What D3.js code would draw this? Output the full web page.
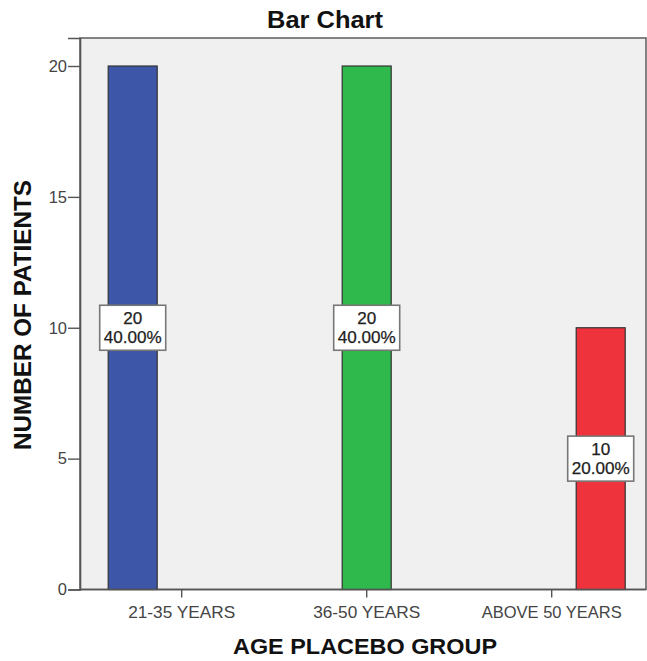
<!DOCTYPE html>
<html>
<head>
<meta charset="utf-8">
<script src="https://cdn.jsdelivr.net/npm/d3@7"></script>
<style>
  html, body { margin: 0; padding: 0; background: #fff; }
  svg { display: block; font-family: "Liberation Sans", Arial, sans-serif; }
</style>
</head>
<body>
<svg id="chart" width="647" height="661"></svg>
<script>
const categories = ["21-35 YEARS", "36-50 YEARS", "ABOVE 50 YEARS"];
const counts = [20, 20, 10];
const percents = [40.00, 40.00, 20.00];
const yTicks = [0, 5, 10, 15, 20];
const barColors = ["#3d56a7", "#2fb84b", "#ef333d"];

const svg = d3.select("#chart");
const frame = { left: 80, right: 646, top: 38, bottom: 589.5 };

const x = d3.scaleBand().domain(categories).range([89.2, 644.2]).padding(0);
const slot = d3.scaleBand().domain(categories).range([-73.5, 73.5]).padding(0);
const y = d3.scaleLinear().domain([0, 21.07]).range([frame.bottom, frame.top]);

// plot background
svg.append("rect")
  .attr("x", frame.left).attr("y", frame.top)
  .attr("width", frame.right - frame.left).attr("height", frame.bottom - frame.top)
  .attr("fill", "#f0f0f0").attr("stroke", "#666").attr("stroke-width", 1.6);

// bars
const data = categories.map((c, i) => ({ cat: c, count: counts[i], pct: percents[i], color: barColors[i] }));
svg.append("g").selectAll("rect").data(data).join("rect")
  .attr("x", d => x(d.cat) + x.bandwidth() / 2 + slot(d.cat))
  .attr("y", d => y(d.count))
  .attr("width", slot.bandwidth())
  .attr("height", d => y(0) - y(d.count))
  .attr("fill", d => d.color)
  .attr("stroke", "#333").attr("stroke-width", 1.2);

// value label boxes
const lbl = svg.append("g").selectAll("g").data(data).join("g")
  .attr("transform", d => `translate(${x(d.cat) + x.bandwidth() / 2 + slot(d.cat) + slot.bandwidth() / 2},${y(d.count / 2)})`);
lbl.append("rect")
  .attr("x", -33).attr("y", -22.5).attr("width", 66).attr("height", 45)
  .attr("fill", "#fff").attr("stroke", "#777").attr("stroke-width", 1.6);
lbl.append("text").attr("text-anchor", "middle").attr("y", -4)
  .attr("font-size", 16).attr("fill", "#222")
  .attr("stroke", "#222").attr("stroke-width", 0.25)
  .attr("textLength", 19).attr("lengthAdjust", "spacingAndGlyphs")
  .text(d => d.count);
lbl.append("text").attr("text-anchor", "middle").attr("y", 15.5)
  .attr("font-size", 16).attr("fill", "#222")
  .attr("stroke", "#222").attr("stroke-width", 0.25)
  .attr("textLength", 58).attr("lengthAdjust", "spacingAndGlyphs")
  .text(d => d.pct.toFixed(2) + "%");

// y axis
const yAxis = svg.append("g").attr("transform", `translate(${frame.left},0)`)
  .call(d3.axisLeft(y).tickValues(yTicks).tickSize(12).tickPadding(1).tickFormat(d3.format("d")));
yAxis.select(".domain").attr("stroke", "#555").attr("stroke-width", 1.6);
yAxis.selectAll(".tick line").attr("stroke", "#555").attr("stroke-width", 1.4);
yAxis.selectAll(".tick text").attr("font-size", 16.5).attr("fill", "#444")
  .attr("font-family", "Liberation Sans, Arial, sans-serif");

// x axis
const xAxis = svg.append("g").attr("transform", `translate(0,${frame.bottom})`)
  .call(d3.axisBottom(x).tickSize(8).tickPadding(9).tickSizeOuter(0));
xAxis.select(".domain").attr("stroke", "#555").attr("stroke-width", 1.6)
  .attr("d", `M${frame.left},0H${frame.right}`);
xAxis.selectAll(".tick line").attr("stroke", "#555").attr("stroke-width", 1.4);
xAxis.selectAll(".tick text").attr("font-size", 16.5).attr("fill", "#444")
  .attr("font-family", "Liberation Sans, Arial, sans-serif")
  .attr("textLength", d => d === "ABOVE 50 YEARS" ? 140 : 107)
  .attr("lengthAdjust", "spacingAndGlyphs");

// title
svg.append("text").attr("x", 325).attr("y", 28).attr("text-anchor", "middle")
  .attr("font-size", 23).attr("font-weight", "bold").attr("fill", "#111")
  .attr("textLength", 116).attr("lengthAdjust", "spacingAndGlyphs")
  .text("Bar Chart");

// axis titles
svg.append("text").attr("x", 365).attr("y", 654).attr("text-anchor", "middle")
  .attr("font-size", 22).attr("font-weight", "bold").attr("fill", "#111")
  .attr("textLength", 264).attr("lengthAdjust", "spacingAndGlyphs")
  .text("AGE PLACEBO GROUP");
svg.append("text").attr("transform", "translate(31,315) rotate(-90)").attr("text-anchor", "middle")
  .attr("font-size", 23).attr("font-weight", "bold").attr("fill", "#111")
  .attr("textLength", 270).attr("lengthAdjust", "spacingAndGlyphs")
  .text("NUMBER OF PATIENTS");
</script>
</body>
</html>
